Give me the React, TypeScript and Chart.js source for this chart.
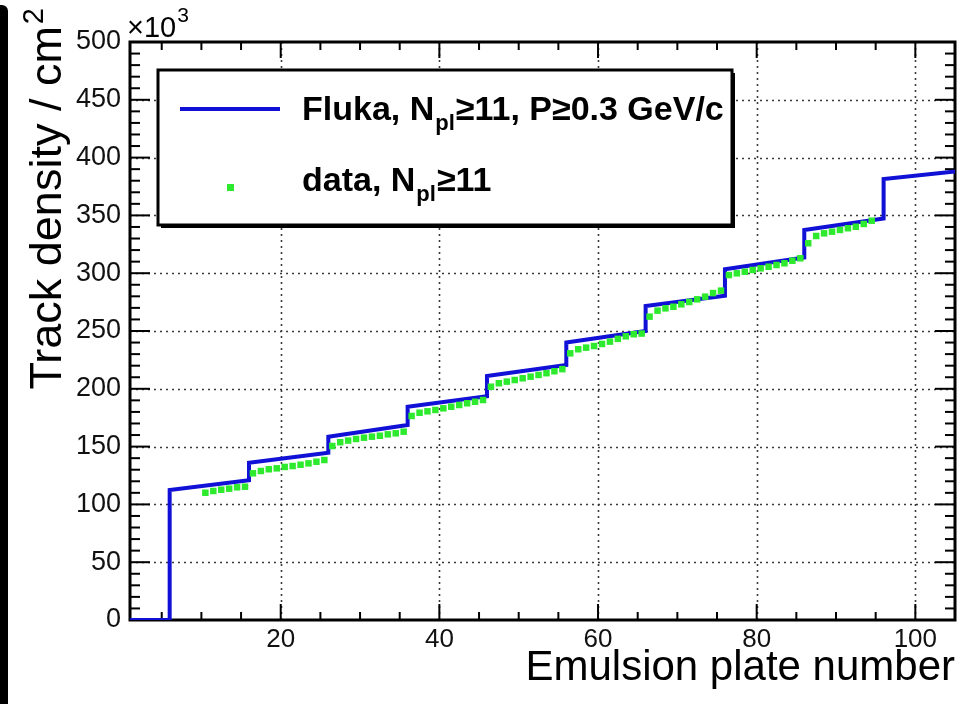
import React, { useEffect, useRef } from 'react';
import { Chart, registerables } from 'chart.js';

Chart.register(...registerables);

// ---------- axes ----------
const X_MIN = 1;
const X_MAX = 105;
const Y_MIN = 0;
const Y_MAX = 500;
const xMajorTicks = [20, 40, 60, 80, 100];
const yMajorTicks = [0, 50, 100, 150, 200, 250, 300, 350, 400, 450, 500];
const xMinorStep = 5;
const yMinorStep = 10;

// ---------- Fluka simulation (step curve), track density in 10^3 / cm^2 ----------
const flukaPlates = [1, 6, 6, 16, 16, 26, 26, 36, 36, 46, 46, 56, 56, 66, 66, 76, 76, 86, 86, 96, 96, 105];
const flukaDensity = [0, 0, 112.5, 121.0, 136.0, 144.7, 158.6, 168.7, 184.5, 193.5, 211.0, 220.6, 240.0, 250.0, 271.6, 280.5, 303.4, 313.5, 337.4, 347.3, 381.5, 388.0];

// ---------- data, one value per emulsion plate ----------
const dataPlates = [
  10, 11, 12, 13, 14, 15,
  16, 17, 18, 19, 20, 21, 22, 23, 24, 25,
  26, 27, 28, 29, 30, 31, 32, 33, 34, 35,
  36, 37, 38, 39, 40, 41, 42, 43, 44, 45,
  46, 47, 48, 49, 50, 51, 52, 53, 54, 55,
  56, 57, 58, 59, 60, 61, 62, 63, 64, 65,
  66, 67, 68, 69, 70, 71, 72, 73, 74, 75,
  76, 77, 78, 79, 80, 81, 82, 83, 84, 85,
  86, 87, 88, 89, 90, 91, 92, 93, 94,
];
const dataDensity = [
  110.1, 111.6, 112.7, 113.6, 114.8, 115.3,
  126.9, 128.9, 130.4, 131.2, 132.4, 133.2, 134.3, 135.5, 136.9, 138.4,
  150.5, 153.8, 155.2, 156.6, 157.7, 158.6, 159.4, 160.6, 161.5, 162.9,
  176.5, 179.3, 180.5, 181.7, 183.1, 184.5, 186.0, 187.5, 188.8, 190.3,
  201.8, 204.8, 206.2, 207.6, 209.1, 210.5, 212.0, 213.5, 215.2, 217.0,
  230.7, 234.2, 235.6, 237.0, 238.8, 240.8, 243.2, 245.4, 247.2, 247.8,
  262.4, 267.6, 269.6, 271.0, 273.1, 275.1, 277.4, 279.7, 282.8, 284.9,
  298.4, 299.9, 301.3, 302.8, 304.2, 305.6, 307.1, 308.6, 310.8, 312.9,
  325.9, 332.2, 334.5, 335.9, 337.4, 338.9, 340.2, 342.6, 345.4,
];

// ---------- texts ----------
const xTitle = 'Emulsion plate number';
const yTitleMain = 'Track density / cm';
const yTitleSup = '2';
const yExponentBase = '\u00d710';
const yExponent = '3';
const legendFluka = { pre: 'Fluka, N', sub: 'pl', post: '\u226511, P\u22650.3 GeV/c' };
const legendData = { pre: 'data, N', sub: 'pl', post: '\u226511' };

const FONT = "'Liberation Sans', Arial, Helvetica, sans-serif";
const BLUE = '#1010d6';
const GREEN = '#2eea2e';

function drawRich(ctx: CanvasRenderingContext2D, x: number, y: number, pre: string, sub: string, post: string, size: number) {
  ctx.textAlign = 'left';
  ctx.textBaseline = 'alphabetic';
  ctx.font = `bold ${size}px ${FONT}`;
  ctx.fillText(pre, x, y);
  let cx = x + ctx.measureText(pre).width + 1;
  const subSize = Math.round(size * 0.64);
  ctx.font = `bold ${subSize}px ${FONT}`;
  ctx.fillText(sub, cx, y + size * 0.3);
  cx += ctx.measureText(sub).width + 1;
  ctx.font = `bold ${size}px ${FONT}`;
  ctx.fillText(post, cx, y);
}

const rootFrame = {
  id: 'rootFrame',
  beforeDatasetsDraw(chart: any) {
    const { ctx, chartArea: a, scales } = chart;
    const x = scales.x;
    const y = scales.y;
    const seg = (x1: number, y1: number, x2: number, y2: number) => {
      ctx.beginPath();
      ctx.moveTo(x1, y1);
      ctx.lineTo(x2, y2);
      ctx.stroke();
    };
    ctx.save();
    // dotted grid
    ctx.strokeStyle = '#3a3a3a';
    ctx.lineWidth = 1.6;
    ctx.setLineDash([2, 4]);
    for (const v of xMajorTicks) {
      const px = Math.round(x.getPixelForValue(v)) + 0.5;
      seg(px, a.top, px, a.bottom);
    }
    for (const v of yMajorTicks) {
      if (v <= Y_MIN || v >= Y_MAX) continue;
      const py = Math.round(y.getPixelForValue(v)) + 0.5;
      seg(a.left, py, a.right, py);
    }
    ctx.setLineDash([]);
    // ticks
    ctx.strokeStyle = '#000';
    ctx.lineWidth = 2;
    for (let v = Math.ceil(X_MIN / xMinorStep) * xMinorStep; v <= X_MAX; v += xMinorStep) {
      const len = xMajorTicks.includes(v) ? 16 : 8;
      const px = x.getPixelForValue(v);
      seg(px, a.bottom, px, a.bottom - len);
      seg(px, a.top, px, a.top + len);
    }
    for (let v = Y_MIN; v <= Y_MAX; v += yMinorStep) {
      const len = yMajorTicks.includes(v) ? 20 : 10;
      const py = y.getPixelForValue(v);
      seg(a.left, py, a.left + len, py);
      seg(a.right, py, a.right - len, py);
    }
    // frame
    ctx.lineWidth = 3;
    ctx.strokeRect(a.left, a.top, a.right - a.left, a.bottom - a.top);
    ctx.restore();
  },
  afterDraw(chart: any) {
    const { ctx, chartArea: a } = chart;
    ctx.save();
    ctx.fillStyle = '#000';

    // x title, right aligned to the frame
    ctx.font = `42px ${FONT}`;
    ctx.textAlign = 'right';
    ctx.textBaseline = 'alphabetic';
    ctx.fillText(xTitle, a.right, 680);

    // y title, rotated, right aligned near the top of the picture
    ctx.font = `45px ${FONT}`;
    const wMain = ctx.measureText(yTitleMain).width;
    ctx.font = `29px ${FONT}`;
    const wSup = ctx.measureText(yTitleSup).width;
    const startY = 8 + wMain + wSup + 2;
    ctx.translate(61, startY);
    ctx.rotate(-Math.PI / 2);
    ctx.textAlign = 'left';
    ctx.font = `45px ${FONT}`;
    ctx.fillText(yTitleMain, 0, 0);
    ctx.font = `29px ${FONT}`;
    ctx.fillText(yTitleSup, wMain + 2, -18);
    ctx.setTransform(1, 0, 0, 1, 0, 0);

    // x10^3
    ctx.textAlign = 'left';
    ctx.font = `29px ${FONT}`;
    ctx.fillText(yExponentBase, a.left - 3, 37);
    const wb = ctx.measureText(yExponentBase).width;
    ctx.font = `21px ${FONT}`;
    ctx.fillText(yExponent, a.left - 3 + wb + 1, 22);

    // legend box
    const L = { x: 158, y: 70, w: 574, h: 155 };
    ctx.fillStyle = '#000';
    ctx.fillRect(L.x + 3, L.y + 3, L.w, L.h);
    ctx.fillStyle = '#fff';
    ctx.fillRect(L.x, L.y, L.w, L.h);
    ctx.strokeStyle = '#000';
    ctx.lineWidth = 3;
    ctx.strokeRect(L.x, L.y, L.w, L.h);

    // entry 1: line
    ctx.strokeStyle = BLUE;
    ctx.lineWidth = 4;
    ctx.beginPath();
    ctx.moveTo(180, 109);
    ctx.lineTo(280, 109);
    ctx.stroke();
    // entry 2: marker
    ctx.fillStyle = GREEN;
    ctx.fillRect(227, 184, 7, 7);

    ctx.fillStyle = '#000';
    drawRich(ctx, 302, 120, legendFluka.pre, legendFluka.sub, legendFluka.post, 34);
    drawRich(ctx, 302, 191, legendData.pre, legendData.sub, legendData.post, 34);
    ctx.restore();
  },
};

export default function App() {
  const canvasRef = useRef<HTMLCanvasElement | null>(null);

  useEffect(() => {
    const canvas = canvasRef.current;
    if (!canvas) return;
    const chart = new Chart(canvas, {
      type: 'scatter',
      data: {
        datasets: [
          {
            type: 'line',
            label: 'Fluka',
            data: flukaPlates.map((p, i) => ({ x: p, y: flukaDensity[i] })),
            borderColor: BLUE,
            backgroundColor: BLUE,
            borderWidth: 4,
            pointRadius: 0,
            tension: 0,
            fill: false,
            order: 1,
          } as any,
          {
            type: 'scatter',
            label: 'data',
            data: dataPlates.map((p, i) => ({ x: p + 0.5, y: dataDensity[i] })),
            backgroundColor: GREEN,
            borderWidth: 0,
            pointStyle: 'rect',
            pointRadius: 4.6,
            order: 0,
          } as any,
        ],
      },
      options: {
        responsive: false,
        animation: false,
        events: [],
        layout: { padding: { left: 0, top: 42, right: 7, bottom: 0 } },
        plugins: { legend: { display: false }, tooltip: { enabled: false } },
        scales: {
          x: {
            type: 'linear',
            min: X_MIN,
            max: X_MAX,
            afterBuildTicks: (s: any) => {
              s.ticks = xMajorTicks.map((v) => ({ value: v }));
            },
            afterFit: (s: any) => {
              s.height = 84;
            },
            grid: { display: false, drawTicks: false },
            border: { display: false },
            ticks: {
              color: '#111',
              font: { family: FONT, size: 26 },
              padding: 4,
              maxRotation: 0,
              autoSkip: false,
            },
          },
          y: {
            type: 'linear',
            min: Y_MIN,
            max: Y_MAX,
            afterBuildTicks: (s: any) => {
              s.ticks = yMajorTicks.map((v) => ({ value: v }));
            },
            afterFit: (s: any) => {
              s.width = 130;
            },
            grid: { display: false, drawTicks: false },
            border: { display: false },
            ticks: {
              color: '#111',
              font: { family: FONT, size: 27 },
              padding: 9,
              autoSkip: false,
            },
          },
        },
      },
      plugins: [rootFrame],
    });
    return () => chart.destroy();
  }, []);

  return (
    <div style={{ position: 'absolute', left: 0, top: 0, width: 962, height: 704, background: '#fff' }}>
      <div
        style={{
          position: 'absolute',
          left: 0,
          top: 5,
          width: 8,
          height: 699,
          background: '#000',
          borderTopRightRadius: 6,
        }}
      />
      <canvas ref={canvasRef} width={962} height={704} style={{ display: 'block', width: 962, height: 704 }} />
    </div>
  );
}
